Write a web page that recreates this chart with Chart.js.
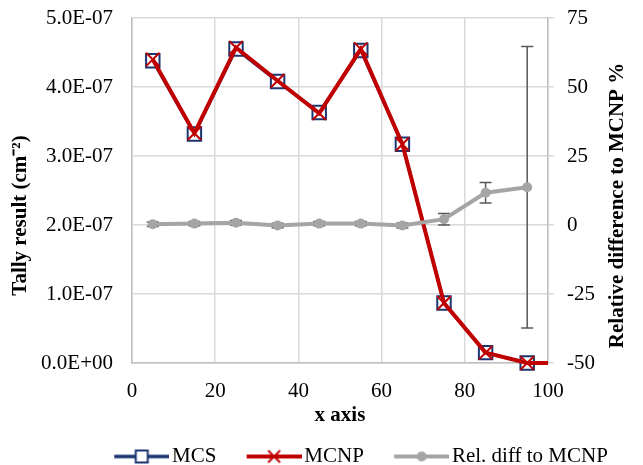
<!DOCTYPE html>
<html>
<head>
<meta charset="utf-8">
<script src="https://cdn.jsdelivr.net/npm/chart.js@4.4.1/dist/chart.umd.min.js"></script>
<style>
  html, body { margin: 0; padding: 0; background: #ffffff; }
  #wrap { width: 643px; height: 465px; position: relative; }
</style>
</head>
<body>
<div id="wrap"><canvas id="c" width="643" height="465"></canvas></div>
<script>
// ---- data ----
const xPositions = [5, 15, 25, 35, 45, 55, 65, 75, 85, 95];
const mcsValues  = [4.38e-7, 3.32e-7, 4.55e-7, 4.08e-7, 3.63e-7, 4.53e-7, 3.17e-7, 0.87e-7, 0.15e-7, 0.0];
const mcnpX      = [5, 15, 25, 35, 45, 55, 65, 75, 85, 95, 100];
const mcnpValues = [4.40e-7, 3.33e-7, 4.57e-7, 4.09e-7, 3.62e-7, 4.55e-7, 3.17e-7, 0.87e-7, 0.15e-7, 0.0, 0.0];
const relDiff    = [0.3, 0.5, 0.8, -0.2, 0.5, 0.5, -0.2, 2.1, 11.7, 13.7];
const relErr     = [0.8, 0.8, 0.8, 0.8, 0.8, 0.8, 0.9, 2.1, 3.7, 51];
const seriesNames = ['MCS', 'MCNP', 'Rel. diff to MCNP'];
const xTitle = 'x axis';
const yTitle = 'Tally result (cm\u207B\u00B2)';
const y2Title = 'Relative difference to MCNP %';

const BLUE = '#1a3570', RED = '#c00000', GRAY = '#a5a5a5', ERR = '#595959';
const FONT = '"Liberation Serif", "Times New Roman", serif';
const FS = 21;

function sci(v) {
  if (Math.abs(v) < 1e-20) return '0.0E+00';
  const s = v.toExponential(1);
  const parts = s.split('e');
  const e = parseInt(parts[1], 10);
  return parts[0] + 'E' + (e < 0 ? '-' : '+') + String(Math.abs(e)).padStart(2, '0');
}

const LEG_P = 8;
const LEG_W = 77.5 - LEG_P;
const IMG_W = Math.round(LEG_W + 15);
function legendImage(kind) {
  const c = document.createElement('canvas');
  c.width = IMG_W; c.height = 18;
  const g = c.getContext('2d');
  const cy = 9, x1 = IMG_W - 55, x2 = IMG_W, cx = (x1 + x2) / 2;
  g.lineCap = 'butt';
  if (kind === 0) {
    g.strokeStyle = BLUE; g.lineWidth = 3.5;
    g.beginPath(); g.moveTo(x1, cy); g.lineTo(x2, cy); g.stroke();
    g.fillStyle = '#fff'; g.lineWidth = 2;
    g.fillRect(cx - 6, cy - 6, 12, 12); g.strokeRect(cx - 6, cy - 6, 12, 12);
  } else if (kind === 1) {
    g.strokeStyle = RED; g.lineWidth = 4;
    g.beginPath(); g.moveTo(x1, cy); g.lineTo(x2, cy); g.stroke();
    g.lineWidth = 2;
    g.beginPath(); g.moveTo(cx - 6, cy - 6); g.lineTo(cx + 6, cy + 6);
    g.moveTo(cx + 6, cy - 6); g.lineTo(cx - 6, cy + 6); g.stroke();
  } else {
    g.strokeStyle = GRAY; g.lineWidth = 4;
    g.beginPath(); g.moveTo(x1, cy); g.lineTo(x2, cy); g.stroke();
    g.fillStyle = GRAY;
    g.beginPath(); g.arc(cx, cy, 5, 0, Math.PI * 2); g.fill();
  }
  return c;
}
const legendImgs = [legendImage(0), legendImage(1), legendImage(2)];

const legendShift = {
  id: 'legendShift',
  afterLayout(chart) {
    const lg = chart.legend;
    if (!lg) return;
    lg.left = 84;
    const dy = 12;
    lg.top += dy; lg.bottom += dy;
  }
};

const errorBars = {
  id: 'errorBars',
  beforeDatasetsDraw(chart) {
    const xs = chart.scales.x, ys = chart.scales.y1, ctx = chart.ctx;
    ctx.save();
    ctx.strokeStyle = ERR; ctx.lineWidth = 1.5;
    for (let i = 0; i < xPositions.length; i++) {
      const px = xs.getPixelForValue(xPositions[i]);
      const top = ys.getPixelForValue(relDiff[i] + relErr[i]);
      const bot = ys.getPixelForValue(relDiff[i] - relErr[i]);
      ctx.beginPath();
      ctx.moveTo(px, top); ctx.lineTo(px, bot);
      ctx.moveTo(px - 6, top); ctx.lineTo(px + 6, top);
      ctx.moveTo(px - 6, bot); ctx.lineTo(px + 6, bot);
      ctx.stroke();
    }
    ctx.restore();
  }
};

const axisTitles = {
  id: 'axisTitles',
  afterDraw(chart) {
    const ctx = chart.ctx, a = chart.chartArea;
    const mid = (a.top + a.bottom) / 2;
    ctx.save();
    ctx.fillStyle = '#000';
    ctx.font = 'bold ' + FS + 'px ' + FONT;
    ctx.textAlign = 'center'; ctx.textBaseline = 'middle';
    ctx.fillText(xTitle, (a.left + a.right) / 2, a.bottom + 53);
    ctx.save();
    ctx.translate(a.left - 111, mid + 25);
    ctx.rotate(-Math.PI / 2);
    ctx.fillText(yTitle, 0, 0);
    ctx.restore();
    ctx.save();
    ctx.translate(a.right + 70, mid + 15);
    ctx.rotate(-Math.PI / 2);
    ctx.fillText(y2Title, 0, 0);
    ctx.restore();
    ctx.restore();
  }
};

const toPts = (xs, ys) => ys.map((v, i) => ({ x: xs[i], y: v }));
const tickFont = { family: FONT, size: FS };

new Chart(document.getElementById('c'), {
  type: 'line',
  data: {
    datasets: [
      {
        label: seriesNames[0], data: toPts(xPositions, mcsValues), yAxisID: 'y', order: 3,
        borderColor: BLUE, borderWidth: 3, pointStyle: 'rect', pointRadius: 9.5,
        pointBackgroundColor: '#ffffff', pointBorderColor: BLUE, pointBorderWidth: 2,
        tension: 0, clip: false
      },
      {
        label: seriesNames[1], data: toPts(mcnpX, mcnpValues), yAxisID: 'y', order: 2,
        borderColor: RED, borderWidth: 4, pointStyle: 'crossRot',
        pointRadius: mcnpX.map(v => v === 100 ? 0 : 9.5),
        pointBorderColor: RED, pointBackgroundColor: RED, pointBorderWidth: 2,
        tension: 0, clip: false
      },
      {
        label: seriesNames[2], data: toPts(xPositions, relDiff), yAxisID: 'y1', order: 1,
        borderColor: GRAY, borderWidth: 4, pointStyle: 'circle', pointRadius: 5,
        pointBackgroundColor: GRAY, pointBorderColor: GRAY, pointBorderWidth: 0,
        tension: 0, clip: false
      }
    ]
  },
  options: {
    responsive: false, animation: false, devicePixelRatio: 1,
    layout: { padding: { top: 0, left: 0, right: 0, bottom: 0 } },
    plugins: {
      tooltip: { enabled: false },
      legend: {
        position: 'bottom', align: 'start',
        labels: {
          usePointStyle: true, pointStyleWidth: LEG_W, padding: LEG_P,
          font: { family: FONT, size: FS }, color: '#000',
          generateLabels: (chart) => chart.data.datasets.map((d, i) => ({
            text: d.label, pointStyle: legendImgs[i], datasetIndex: i,
            fillStyle: 'transparent', strokeStyle: 'transparent', lineWidth: 0, hidden: false
          }))
        }
      }
    },
    scales: {
      x: {
        type: 'linear', min: 0, max: 100,
        ticks: { stepSize: 20, color: '#000', font: tickFont, padding: 16, maxRotation: 0 },
        grid: { color: '#d9d9d9', lineWidth: 1.5, drawTicks: false },
        border: { color: '#bfbfbf', width: 1.5 },
        afterFit: (s) => { s.height = 102 - s.chart.legend.height; }
      },
      y: {
        position: 'left', min: 0, max: 5e-7,
        ticks: { stepSize: 1e-7, color: '#000', font: tickFont, padding: 19, callback: (v) => sci(v) },
        grid: { color: '#d9d9d9', lineWidth: 1.5, drawTicks: false },
        border: { color: '#bfbfbf', width: 1.5 },
        afterFit: (s) => { s.width = 132; s.paddingTop = 18; s.paddingBottom = 0; }
      },
      y1: {
        position: 'right', min: -50, max: 75,
        ticks: { stepSize: 25, color: '#000', font: tickFont, padding: 13 },
        grid: { drawOnChartArea: false, color: '#d9d9d9', lineWidth: 1.5, tickLength: 6 },
        border: { color: '#bfbfbf', width: 1.5 },
        afterFit: (s) => { s.width = 95; s.paddingTop = 18; s.paddingBottom = 0; }
      }
    }
  },
  plugins: [legendShift, errorBars, axisTitles]
});
</script>
</body>
</html>
